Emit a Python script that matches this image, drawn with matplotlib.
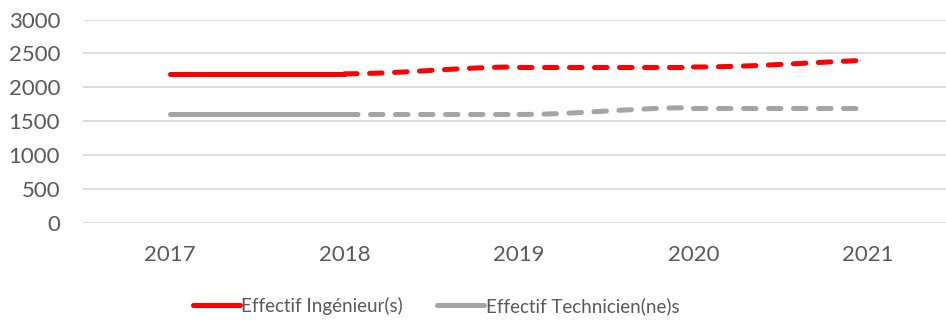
import numpy as np
import matplotlib.pyplot as plt
from matplotlib.lines import Line2D

plt.rcParams['font.family'] = ['Lato', 'DejaVu Sans']

years = ['2017', '2018', '2019', '2020', '2021']
ingenieurs = [2200, 2200, 2300, 2300, 2400]
techniciens = [1600, 1600, 1600, 1700, 1700]
labels = ['Effectif Ingénieur(s)', 'Effectif Technicien(ne)s']
colors = ['#FF0000', '#A5A5A5']
yticks = [0, 500, 1000, 1500, 2000, 2500, 3000]

text_color = '#595959'
grid_color = '#D9D9D9'


def tangents(y):
    # monotone tangents: flat wherever a neighbouring step is flat
    y = np.asarray(y, float)
    d = np.diff(y)
    m = np.zeros(len(y))
    m[0], m[-1] = d[0], d[-1]
    for i in range(1, len(y) - 1):
        if d[i - 1] * d[i] > 0:
            m[i] = (d[i - 1] + d[i]) / 2
    return m


def smooth_segment(x, y, i, n=40):
    # cubic hermite piece between point i and i+1
    m = tangents(y)
    t = np.linspace(0, 1, n)
    h00 = 2 * t ** 3 - 3 * t ** 2 + 1
    h10 = t ** 3 - 2 * t ** 2 + t
    h01 = -2 * t ** 3 + 3 * t ** 2
    h11 = t ** 3 - t ** 2
    sy = h00 * y[i] + h10 * m[i] + h01 * y[i + 1] + h11 * m[i + 1]
    sx = x[i] + t * (x[i + 1] - x[i])
    return sx, sy


fig = plt.figure(figsize=(9.46, 3.2), dpi=100)
ax = fig.add_axes([83 / 946, 97 / 320, 872 / 946, 203.5 / 320])

x = np.arange(len(years))
lw = 3.6
for series, color in zip([ingenieurs, techniciens], colors):
    for i in range(len(x) - 1):
        sx, sy = smooth_segment(x, series, i)
        if i == 0:
            ax.plot(sx, sy, color=color, lw=lw, solid_capstyle='round')
        else:
            ax.plot(sx, sy, color=color, lw=lw, dashes=(2.5, 2.5),
                    dash_capstyle='round')

ax.set_xlim(-0.5, len(years) - 0.5)
ax.set_ylim(0, 3000)
ax.set_xticks(x)
ax.set_xticklabels(years)
ax.set_yticks(yticks)
ax.set_yticklabels([str(v) for v in yticks])
ax.tick_params(axis='both', length=0, labelsize=16, colors=text_color)
ax.tick_params(axis='x', pad=16)
ax.tick_params(axis='y', pad=16.5)
ax.grid(axis='y', color=grid_color, lw=1.3)
ax.set_axisbelow(True)
for s in ax.spines.values():
    s.set_visible(False)

handles = [Line2D([], [], color=c, lw=lw, solid_capstyle='round') for c in colors]
leg = fig.legend(handles, labels, loc='center', bbox_to_anchor=(436 / 946, 1 - 306 / 320),
                 ncol=2, frameon=False, fontsize=13.5, handlelength=2.5,
                 handletextpad=0.1, columnspacing=1.8)
for t in leg.get_texts():
    t.set_color(text_color)

fig.savefig('out.png', dpi=100)
